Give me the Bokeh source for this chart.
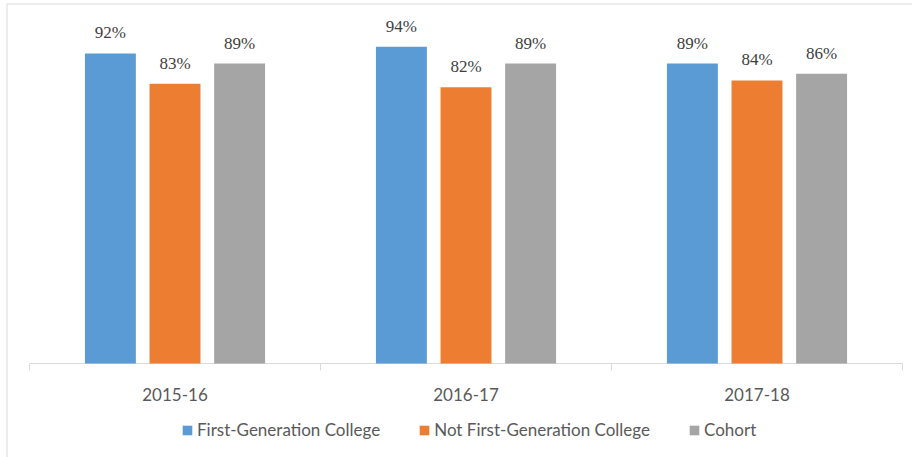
import numpy as np
from bokeh.plotting import figure
from bokeh.models import Range1d, LabelSet, ColumnDataSource, Legend, LegendItem
from bokeh.core.properties import value
from bokeh.embed import file_html
from bokeh.resources import INLINE

categories = ["2015-16", "2016-17", "2017-18"]
series_names = ["First-Generation College", "Not First-Generation College", "Cohort"]
first_gen = [92, 94, 89]
not_first_gen = [83, 82, 84]
cohort = [89, 89, 86]
colors = ["#5B9BD5", "#ED7D31", "#A5A5A5"]

# layout constants (pixels)
W, H = 912, 457
AX_LEFT, AX_RIGHT = 29, 902      # x-axis extent
AX_Y, TOP100 = 363, 26           # axis line y and 100% y
cat_px = (AX_RIGHT - AX_LEFT) / len(categories)
ppu = (AX_Y - TOP100) / 100.0    # pixels per percent

x_range = Range1d(-AX_LEFT / cat_px, len(categories) + (W - AX_RIGHT) / cat_px)
y_range = Range1d(-(H - AX_Y) / ppu, 100 + TOP100 / ppu)

def px_x(px):
    return (px - AX_LEFT) / cat_px

def px_y(py):
    return (AX_Y - py) / ppu

FONT = "Lato"
p = figure(width=W, height=H, output_backend="svg", toolbar_location=None,
           x_range=x_range, y_range=y_range, min_border=0)
p.outline_line_color = None
p.grid.visible = False
p.xaxis.visible = False
p.yaxis.visible = False

# chart border (left and top)
p.segment(x0=[px_x(6.5), px_x(6.5)], y0=[px_y(3.5), px_y(3.5)],
          x1=[px_x(6.5), px_x(W + 5)], y1=[px_y(H + 5), px_y(3.5)],
          line_color="#d9d9d9", line_width=1)

# category axis line and boundary ticks
n = len(categories)
p.segment(x0=[0], y0=[0], x1=[n], y1=[0], line_color="#d9d9d9", line_width=1)
bounds = np.arange(n + 1)
p.segment(x0=bounds, y0=np.zeros(n + 1), x1=bounds, y1=np.full(n + 1, -7 / ppu),
          line_color="#d9d9d9", line_width=1)

idx = np.arange(n) + 0.5
p.text(x=idx, y=np.zeros(n), text=categories, text_font=value(FONT), text_font_size="17px",
       text_align="center", text_baseline="alphabetic", y_offset=31, text_color="#595959")

offsets = [-0.222, 0.0, 0.222]
bar_w = 0.175
renderers = []
for vals, off, col in zip([first_gen, not_first_gen, cohort], offsets, colors):
    src = ColumnDataSource(dict(x=idx + off, top=vals, lab=[f"{v}%" for v in vals]))
    r = p.vbar(x="x", top="top", width=bar_w, bottom=0, source=src, fill_color=col, line_color=None)
    renderers.append(r)
    ls = LabelSet(x="x", y="top", text="lab", source=src, y_offset=15, text_align="center",
                  text_baseline="alphabetic", text_font=FONT, text_font_size="17px",
                  text_color="#404040")
    p.add_layout(ls)

legend = Legend(items=[LegendItem(label=nm, renderers=[r]) for nm, r in zip(series_names, renderers)],
                orientation="horizontal", location=(181, 17), glyph_width=12, glyph_height=12,
                label_standoff=4, spacing=38, padding=0, margin=0,
                label_text_font=FONT, label_text_font_size="17px", label_text_color="#595959",
                border_line_color=None, background_fill_alpha=0)
p.add_layout(legend)

open("out.html", "w").write(file_html(p, INLINE))
